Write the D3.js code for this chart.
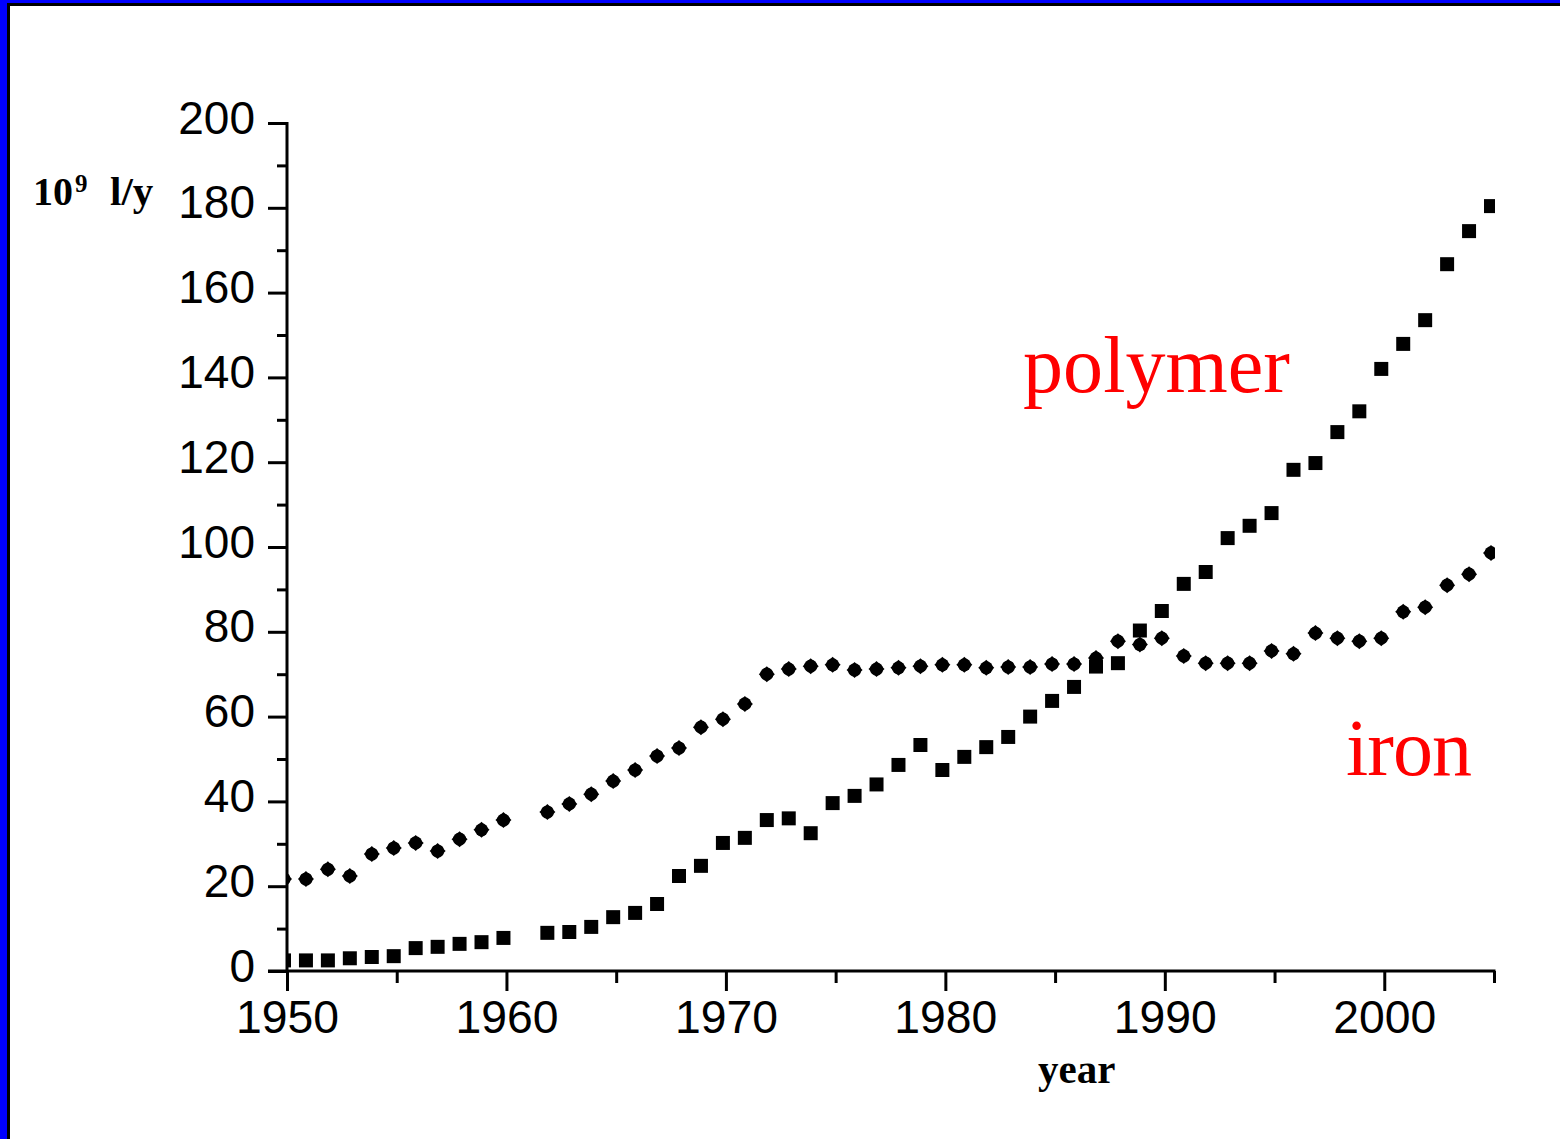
<!DOCTYPE html>
<html>
<head>
<meta charset="utf-8">
<script src="https://cdn.jsdelivr.net/npm/d3@7"></script>
<style>
  html, body { margin: 0; padding: 0; background: #fff; }
  svg { display: block; }
</style>
</head>
<body>
<svg id="chart" width="1560" height="1139"></svg>
<script>
// ---- data ----
const years = [1950,1951,1952,1953,1954,1955,1956,1957,1958,1959,1960,
  1962,1963,1964,1965,1966,1967,1968,1969,1970,1971,1972,1973,1974,1975,1976,1977,1978,1979,
  1980,1981,1982,1983,1984,1985,1986,1987,1988,1989,1990,1991,1992,1993,1994,1995,1996,1997,
  1998,1999,2000,2001,2002,2003,2004,2005];
const polymer = [2.5,2.5,2.5,3,3.3,3.5,5.4,5.7,6.4,6.8,7.8,
  9,9.2,10.4,12.7,13.7,15.8,22.4,24.8,30.2,31.4,35.6,36,32.5,39.6,41.3,44,48.6,53.3,
  47.4,50.5,52.8,55.2,60,63.7,67,71.8,72.6,80.3,84.9,91.3,94.1,102.1,105,108,118.2,119.8,
  127.1,132,142,147.9,153.5,166.7,174.5,180.4];
const iron = [21.7,21.7,24,22.4,27.6,29,30.2,28.3,31.1,33.3,35.6,
  37.5,39.4,41.7,44.8,47.4,50.7,52.6,57.5,59.4,63,70,71.2,71.9,72.2,71,71.2,71.5,71.9,
  72.2,72.2,71.5,71.7,71.7,72.4,72.4,73.8,77.8,77,78.5,74.3,72.6,72.6,72.6,75.5,74.8,79.7,
  78.5,77.8,78.5,84.7,85.8,91,93.6,98.6];
const yTicks = [0,20,40,60,80,100,120,140,160,180,200];
const xTicks = [1950,1960,1970,1980,1990,2000];
const seriesLabels = ["polymer", "iron"];

// ---- layout ----
const svg = d3.select("#chart");
const X0 = 287, X1 = 1494, Y0 = 971, Y1 = 123;
const x = d3.scaleLinear().domain([1950, 2005]).range([X0, X1]);
const y = d3.scaleLinear().domain([0, 200]).range([Y0, Y1]);

// frame borders (blue + black) on top and left
svg.append("rect").attr("x",0).attr("y",0).attr("width",1560).attr("height",3).attr("fill","#0000ff");
svg.append("rect").attr("x",0).attr("y",3).attr("width",1560).attr("height",3).attr("fill","#000");
svg.append("rect").attr("x",0).attr("y",0).attr("width",7).attr("height",1139).attr("fill","#0000ff");
svg.append("rect").attr("x",7).attr("y",3).attr("width",3).attr("height",1136).attr("fill","#000");

// clip for markers
svg.append("clipPath").attr("id","plotclip")
  .append("rect").attr("x",X0).attr("y",0).attr("width",X1-X0+1).attr("height",Y0+10);

const data = years.map((yr,i)=>({yr, p: polymer[i], f: iron[i]}));
const g = svg.append("g").attr("clip-path","url(#plotclip)")
  .append("g").attr("transform","translate(-3,0)");

// polymer: squares
g.selectAll("path.poly").data(data).join("path")
  .attr("class","poly")
  .attr("transform", d => `translate(${x(d.yr)},${y(d.p)})`)
  .attr("d", d3.symbol(d3.symbolSquare, 196)())
  .attr("fill","#000");

// iron: rounded diamonds
const ironG = g.selectAll("g.iron").data(data).join("g")
  .attr("class","iron")
  .attr("transform", d => `translate(${x(d.yr)},${y(d.f)})`);
ironG.append("path").attr("d", d3.symbol(d3.symbolCircle, Math.PI*6.6*6.6)()).attr("fill","#000");
ironG.append("path").attr("d", d3.symbol(d3.symbolSquare, 128)()).attr("transform","rotate(45)").attr("fill","#000");

// ---- axes ----
const fontTick = "'Liberation Sans', Arial, sans-serif";

// y axis
const yAxis = d3.axisLeft(y).tickValues(yTicks).tickSize(19).tickPadding(13).tickFormat(d3.format("d"));
const ya = svg.append("g").attr("transform",`translate(${X0},0)`).call(yAxis);
ya.select(".domain").remove();
ya.selectAll(".tick line").attr("stroke","#000").attr("stroke-width",3);
ya.selectAll(".tick text").attr("font-family",fontTick).attr("font-size",46).attr("fill","#000")
  .attr("dy", null).attr("y", 0).attr("transform","translate(0,10)");
// minor y ticks
const yMinor = d3.axisLeft(y).tickValues(d3.range(10,200,20)).tickSize(10).tickFormat("");
const ym = svg.append("g").attr("transform",`translate(${X0},0)`).call(yMinor);
ym.select(".domain").remove();
ym.selectAll(".tick line").attr("stroke","#000").attr("stroke-width",3);

// x axis
const xAxis = d3.axisBottom(x).tickValues(xTicks).tickSize(20).tickPadding(12).tickFormat(d3.format("d"));
const xa = svg.append("g").attr("transform",`translate(0,${Y0})`).call(xAxis);
xa.select(".domain").remove();
xa.selectAll(".tick line").attr("stroke","#000").attr("stroke-width",3);
xa.selectAll(".tick text").attr("font-family",fontTick).attr("font-size",46).attr("fill","#000")
  .attr("dy", null).attr("y", 62).attr("textLength",103).attr("lengthAdjust","spacingAndGlyphs");
const xMinor = d3.axisBottom(x).tickValues(d3.range(1955,2006,10)).tickSize(12).tickFormat("");
const xm = svg.append("g").attr("transform",`translate(0,${Y0})`).call(xMinor);
xm.select(".domain").remove();
xm.selectAll(".tick line").attr("stroke","#000").attr("stroke-width",3);

// axis lines
svg.append("line").attr("x1",X0).attr("x2",X0).attr("y1",Y1-1).attr("y2",Y0+1)
  .attr("stroke","#000").attr("stroke-width",3);
svg.append("line").attr("x1",X0-19).attr("x2",X1+1.5).attr("y1",Y0).attr("y2",Y0)
  .attr("stroke","#000").attr("stroke-width",3);

// ---- titles ----
const serif = "'Liberation Serif', 'Times New Roman', serif";
const yl = svg.append("text").attr("font-family",serif).attr("font-weight","bold").attr("fill","#000");
yl.append("tspan").attr("x",33).attr("y",205).attr("font-size",40).text("10");
yl.append("tspan").attr("x",75).attr("y",192).attr("font-size",25).text("9");
yl.append("tspan").attr("x",110).attr("y",205).attr("font-size",41).text("l/y");

svg.append("text").attr("x",1038).attr("y",1083).attr("font-family",serif).attr("font-weight","bold")
  .attr("font-size",41).attr("fill","#000").text("year");

// series labels (red)
svg.append("text").attr("x",1023).attr("y",392).attr("font-family",serif).attr("font-size",80)
  .attr("fill","#ff0000").attr("textLength",267).text(seriesLabels[0]);
svg.append("text").attr("x",1346).attr("y",775).attr("font-family",serif).attr("font-size",80)
  .attr("fill","#ff0000").attr("textLength",126).text(seriesLabels[1]);
</script>
</body>
</html>
